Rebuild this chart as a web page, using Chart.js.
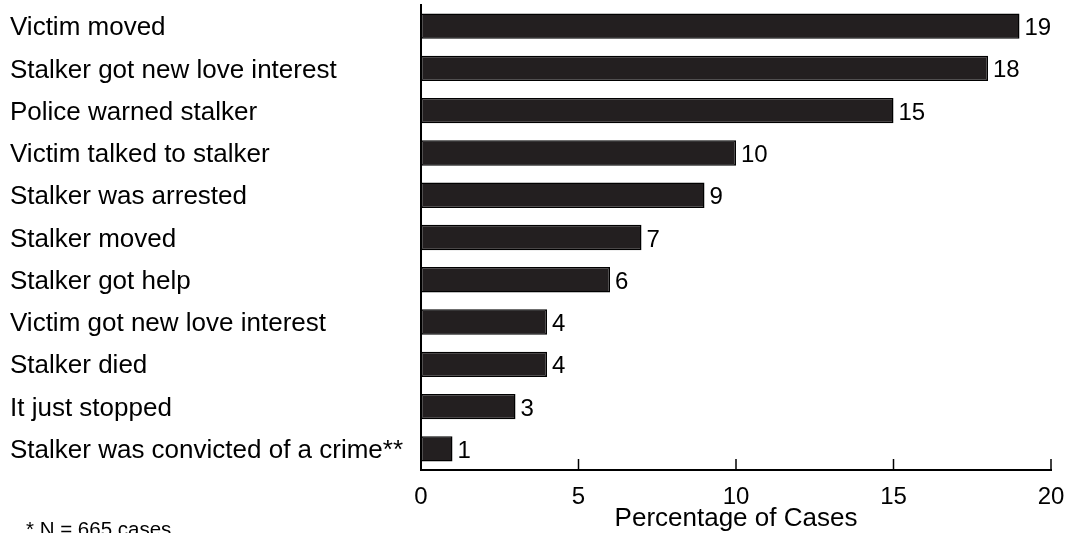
<!DOCTYPE html>
<html>
<head>
<meta charset="utf-8">
<script src="https://cdn.jsdelivr.net/npm/chart.js@4"></script>
<style>
    body { margin: 0; background: #fff; }
    #wrap { width: 1083px; height: 533px; }
</style>
</head>
<body>
<div id="wrap"><canvas id="stalkChart" width="1083" height="533"></canvas></div>
<script>
// data
const categories = ['Victim moved', 'Stalker got new love interest', 'Police warned stalker',
    'Victim talked to stalker', 'Stalker was arrested', 'Stalker moved', 'Stalker got help',
    'Victim got new love interest', 'Stalker died', 'It just stopped',
    'Stalker was convicted of a crime**'];
const percentages = [19, 18, 15, 10, 9, 7, 6, 4, 4, 3, 1];
const xTicks = [0, 5, 10, 15, 20];
const footnote = '* N = 665 cases';

const FONT = '"Liberation Sans", Arial, Helvetica, sans-serif';

// numbers at the end of each bar, small upward ticks on the x axis, footnote
const extras = {
    id: 'extras',
    afterDatasetsDraw(chart) {
        const ctx = chart.ctx;
        const meta = chart.getDatasetMeta(0);
        ctx.save();
        ctx.fillStyle = '#000';
        ctx.font = '24px ' + FONT;
        ctx.textAlign = 'left';
        ctx.textBaseline = 'alphabetic';
        meta.data.forEach((bar, i) => {
            ctx.fillText(String(percentages[i]), bar.x + 5, bar.y + 9);
        });
        ctx.restore();
    },
    afterDraw(chart) {
        const ctx = chart.ctx;
        const xs = chart.scales.x;
        const bottom = chart.chartArea.bottom;
        ctx.save();
        ctx.strokeStyle = '#000';
        ctx.lineWidth = 1.5;
        xTicks.forEach(v => {
            const px = xs.getPixelForValue(v);
            ctx.beginPath();
            ctx.moveTo(px, bottom);
            ctx.lineTo(px, bottom - 11);
            ctx.stroke();
        });
        ctx.fillStyle = '#000';
        ctx.font = '20.5px ' + FONT;
        ctx.textBaseline = 'alphabetic';
        ctx.fillText(footnote, 26, 536);
        ctx.restore();
    }
};

new Chart(document.getElementById('stalkChart'), {
    type: 'bar',
    data: {
        labels: categories,
        datasets: [{
            data: percentages,
            backgroundColor: '#231f20',
            borderColor: '#000',
            borderWidth: 1.5,
            borderSkipped: false,
            barPercentage: 0.6,
            categoryPercentage: 1
        }]
    },
    options: {
        indexAxis: 'y',
        responsive: false,
        animation: false,
        layout: { padding: { top: 5, left: 10, right: 32, bottom: 0 } },
        plugins: {
            legend: { display: false },
            tooltip: { enabled: false }
        },
        scales: {
            x: {
                min: 0,
                max: 20,
                afterFit: s => { s.height = 63; s.paddingLeft = 0; s.paddingRight = 0; },
                afterBuildTicks: s => { s.ticks = xTicks.map(v => ({ value: v })); },
                grid: { display: false },
                border: { display: true, color: '#000', width: 2 },
                ticks: {
                    color: '#000',
                    font: { family: FONT, size: 24 },
                    padding: 5,
                    maxRotation: 0
                },
                title: {
                    display: true,
                    text: 'Percentage of Cases',
                    color: '#000',
                    font: { family: FONT, size: 26, lineHeight: 1 },
                    padding: { top: 0, bottom: 1 }
                }
            },
            y: {
                afterFit: s => { s.width = 411; s.paddingTop = 0; s.paddingBottom = 0; },
                grid: { display: false },
                border: { display: true, color: '#000', width: 2 },
                ticks: {
                    color: '#000',
                    crossAlign: 'far',
                    labelOffset: 2,
                    font: { family: FONT, size: 26 }
                }
            }
        }
    },
    plugins: [extras]
});
</script>
</body>
</html>
